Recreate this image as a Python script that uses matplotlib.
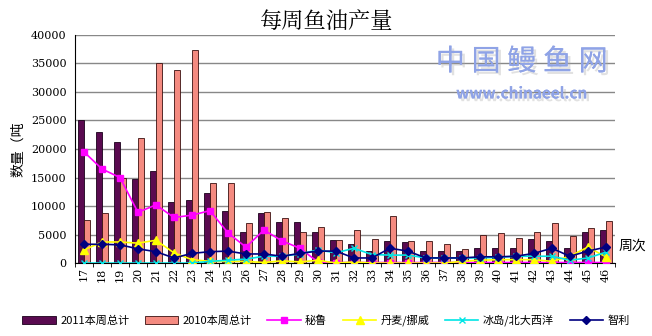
import numpy as np
import matplotlib.pyplot as plt
import matplotlib.patheffects as pe

plt.rcParams['font.family'] = ['Noto Sans CJK SC', 'DejaVu Sans']

weeks = list(range(17, 47))
total_2011 = [25000, 23000, 21200, 14700, 16200, 10700, 11000, 12300, 9100, 5400,
              8800, 7200, 7200, 5400, 4000, 3300, 2100, 3900, 3700, 2100,
              2100, 2100, 2600, 2600, 2600, 4200, 3900, 2600, 5400, 5800]
total_2010 = [7500, 8700, 15000, 22000, 35000, 33800, 37300, 14000, 14000, 7000,
              9000, 7900, 5400, 6400, 4000, 5800, 4200, 8200, 3900, 3900,
              3300, 2500, 4900, 5200, 4400, 5400, 7000, 4700, 6100, 7400]
peru = [19500, 16500, 15000, 8900, 10200, 8000, 8400, 9200, 5300, 2800,
        5800, 3900, 2600, 200, 100, 100, 100, 100, 100, 100,
        100, 100, 100, 100, 100, 100, 100, 100, 100, 100]
denmark = [2300, 3700, 3700, 3500, 4000, 1800, 600, 300, 300, 300,
           100, 400, 200, 500, 0, 200, 0, 0, 0, 0,
           0, 300, 500, 600, 600, 600, 300, 1200, 2800, 1100]
iceland = [0, 0, 0, 0, 0, 0, 0, 300, 500, 700,
           1200, 1200, 1600, 2300, 1800, 2600, 1500, 1400, 1400, 900,
           900, 900, 900, 1000, 1200, 1200, 1200, 500, 900, 1900]
chile = [3300, 3300, 3200, 2500, 2000, 900, 1700, 2000, 2100, 1600,
         1600, 1200, 1700, 2100, 2100, 900, 900, 2600, 2100, 900,
         900, 900, 1100, 1100, 1200, 1700, 2600, 1200, 2100, 2800]

x = np.arange(len(weeks))
w = 0.34

fig = plt.figure(figsize=(6.52, 3.36), dpi=100)
ax = fig.add_axes([0.115, 0.217, 0.828, 0.679])

b1 = ax.bar(x - w / 2, total_2011, w, color='#5a0a50', edgecolor='#1a001a', linewidth=0.6,
            label='2011本周总计', zorder=2)
b2 = ax.bar(x + w / 2, total_2010, w, color='#f48a80', edgecolor='#3a1010', linewidth=0.6,
            label='2010本周总计', zorder=2)
l1, = ax.plot(x, peru, color='#ff00ff', marker='s', markersize=4.5, linewidth=1.2, label='秘鲁', zorder=3)
l2, = ax.plot(x, denmark, color='#ffff00', marker='^', markersize=5.5, linewidth=1.2, label='丹麦/挪威', zorder=3)
l3, = ax.plot(x, iceland, color='#00e5e5', marker='x', markersize=5, linewidth=1.2, label='冰岛/北大西洋', zorder=3)
l4, = ax.plot(x, chile, color='#000080', marker='D', markersize=4.5, linewidth=1.2, label='智利', zorder=4)

ax.set_xlim(-0.5, len(weeks) - 0.5)
ax.set_ylim(0, 40000)
ax.set_yticks(range(0, 40001, 5000))
ax.yaxis.grid(True, color='#888888', linewidth=1)
ax.set_axisbelow(True)
ax.set_xticks(x)
ax.set_xticklabels([str(v) for v in weeks], rotation=90, fontsize=8, family='DejaVu Serif')
ax.set_xticks(np.arange(-0.5, len(weeks), 1), minor=True)
ax.tick_params(axis='x', which='major', length=0, pad=3)
ax.tick_params(axis='x', which='minor', length=3)
ax.tick_params(axis='y', length=0, labelsize=8, pad=6)
for lab in ax.get_yticklabels():
    lab.set_family('DejaVu Serif')
for s in ['top', 'right']:
    ax.spines[s].set_visible(False)

ax.set_ylabel('数量（吨', fontsize=10, labelpad=4)
fig.text(0.5, 0.935, '每周鱼油产量', ha='center', va='center', fontsize=16,
         family=['Noto Serif CJK SC', 'Noto Sans CJK SC'])
fig.text(0.948, 0.27, '周次', ha='left', va='center', fontsize=10)

# watermark
shadow = [pe.withSimplePatchShadow(offset=(2, -2), shadow_rgbFace='#aaaaaa', alpha=0.35), pe.Normal()]
fig.text(0.80, 0.815, '中 国 鳗 鱼 网', ha='center', va='center', fontsize=21, color='#8fa3e6',
         path_effects=shadow)
fig.text(0.80, 0.722, 'www.chinaeel.cn', ha='center', va='center', fontsize=11, color='#8fa3e6',
         fontweight='bold', path_effects=shadow)

fig.legend(handles=[b1, b2, l1, l2, l3, l4], loc='lower center', bbox_to_anchor=(0.5, 0.0),
           ncol=6, frameon=False, fontsize=8, handlelength=3, columnspacing=1.4, handletextpad=0.4)

fig.savefig('out.png', dpi=100)
